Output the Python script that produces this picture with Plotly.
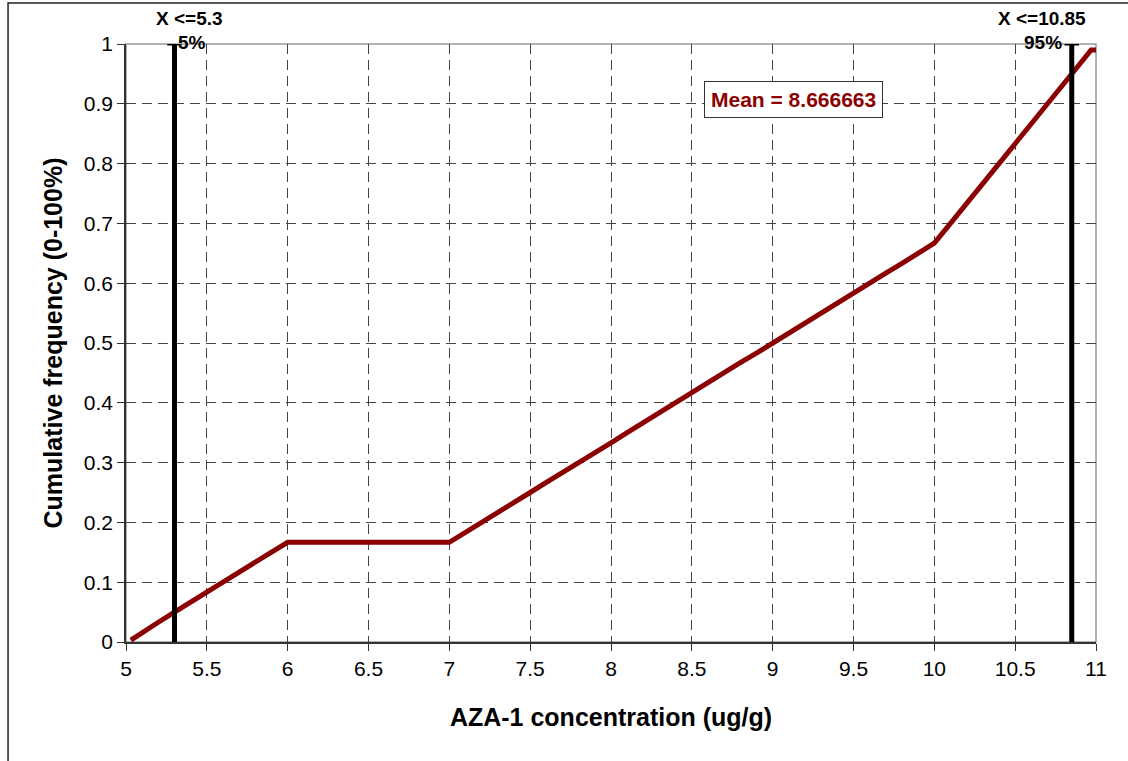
import plotly.graph_objects as go

# CDF data
conc = [5.03, 5.1, 5.2, 5.3, 5.4, 5.5, 5.6, 5.7, 5.8, 5.9, 6.0,
        7.0, 7.1, 7.2, 7.3, 7.4, 7.5, 7.6, 7.7, 7.8, 7.9, 8.0,
        8.1, 8.2, 8.3, 8.4, 8.5, 8.6, 8.7, 8.8, 8.9, 9.0,
        9.1, 9.2, 9.3, 9.4, 9.5, 9.6, 9.7, 9.8, 9.9, 10.0,
        10.1, 10.2, 10.3, 10.4, 10.5, 10.6, 10.7, 10.8, 10.9, 10.97, 11.0]
cumfreq = [0.003, 0.016, 0.033, 0.05, 0.066, 0.083, 0.1, 0.117, 0.133, 0.15, 0.1667,
           0.1667, 0.183, 0.2, 0.217, 0.233, 0.25, 0.267, 0.283, 0.3, 0.317, 0.333,
           0.35, 0.367, 0.383, 0.4, 0.417, 0.433, 0.45, 0.467, 0.483, 0.5,
           0.517, 0.533, 0.55, 0.567, 0.583, 0.6, 0.617, 0.633, 0.65, 0.667,
           0.70, 0.733, 0.767, 0.80, 0.833, 0.867, 0.90, 0.933, 0.967, 0.99, 0.99]

p5_x, p95_x = 5.3, 10.85
p_labels = ["X <=5.3", "X <=10.85"]
pct_labels = ["5%", "95%"]
mean_text = "Mean = 8.666663"

x_ticks = [5, 5.5, 6, 6.5, 7, 7.5, 8, 8.5, 9, 9.5, 10, 10.5, 11]
y_ticks = [0, 0.1, 0.2, 0.3, 0.4, 0.5, 0.6, 0.7, 0.8, 0.9, 1]

FONT = "Liberation Sans, Arial, sans-serif"
RED = "#8B0000"

fig = go.Figure()

fig.add_trace(go.Scatter(x=conc, y=cumfreq, mode="lines",
                         line=dict(color=RED, width=5), hoverinfo="skip",
                         showlegend=False))

cap = 0.045
for px in (p5_x, p95_x):
    fig.add_trace(go.Scatter(x=[px, px], y=[0, 1], mode="lines",
                             line=dict(color="black", width=5),
                             showlegend=False, hoverinfo="skip"))
    fig.add_trace(go.Scatter(x=[px - cap, px + cap], y=[1, 1], mode="lines",
                             line=dict(color="black", width=3),
                             showlegend=False, hoverinfo="skip"))

lab_font = dict(family=FONT, size=19, color="black")
fig.add_annotation(x=p5_x, y=1, xref="x", yref="y", yshift=26, xshift=15, text="<b>" + p_labels[0] + "</b>",
                   showarrow=False, font=lab_font, xanchor="center")
fig.add_annotation(x=p5_x, y=1, xref="x", yref="y", yshift=2, xshift=1, text="<b>" + pct_labels[0] + "</b>",
                   showarrow=False, font=lab_font, xanchor="left")
fig.add_annotation(x=p95_x, y=1, xref="x", yref="y", yshift=26, xshift=-30, text="<b>" + p_labels[1] + "</b>",
                   showarrow=False, font=lab_font, xanchor="center")
fig.add_annotation(x=p95_x, y=1, xref="x", yref="y", yshift=2, xshift=-8, text="<b>" + pct_labels[1] + "</b>",
                   showarrow=False, font=lab_font, xanchor="right")

fig.add_annotation(x=0.5955, y=0.9065, xref="paper", yref="paper", text="<b>" + mean_text + "</b>",
                   showarrow=False, font=dict(family=FONT, size=21, color=RED),
                   xanchor="left", yanchor="middle", bgcolor="white",
                   bordercolor="#333333", borderwidth=1, borderpad=6)

# outer frame (left/top visible)
fig.add_shape(type="rect", xref="paper", yref="paper", x0=-0.1216, x1=1.2, y0=-0.4, y1=1.0686,
              line=dict(color="#222222", width=1.5), layer="below")
# plot area border (top/right grey)
fig.add_shape(type="rect", xref="paper", yref="paper", x0=0, x1=1, y0=0, y1=1,
              line=dict(color="#999999", width=1.5), layer="below")

fig.update_xaxes(range=[5, 11], tickvals=x_ticks, ticktext=[f"{v:g}" for v in x_ticks],
                 showgrid=True, gridcolor="#444444", griddash="10px,6px", gridwidth=1,
                 showline=True, linecolor="#333333", linewidth=1.5,
                 ticks="outside", ticklen=7, tickcolor="#333333",
                 tickfont=dict(family=FONT, size=21, color="black"),
                 title=dict(text="<b>AZA-1 concentration (ug/g)</b>", font=dict(family=FONT, size=25, color="black"),
                            standoff=30),
                 zeroline=False)
fig.update_yaxes(range=[0, 1], tickvals=y_ticks, ticktext=[f"{v:g}" for v in y_ticks],
                 showgrid=True, gridcolor="#444444", griddash="10px,6px", gridwidth=1,
                 showline=True, linecolor="#333333", linewidth=1.5,
                 ticks="outside", ticklen=7, tickcolor="#333333",
                 tickfont=dict(family=FONT, size=21, color="black"),
                 title=dict(text="<b>Cumulative frequency (0-100%)</b>", font=dict(family=FONT, size=25, color="black"),
                            standoff=14),
                 zeroline=False)

fig.update_layout(width=1128, height=761, margin=dict(l=126, r=32, t=44, b=119),
                  plot_bgcolor="white", paper_bgcolor="white", showlegend=False)

fig.write_html("out.html", config={"displayModeBar": False},
               post_script="document.body.style.margin='0';")
